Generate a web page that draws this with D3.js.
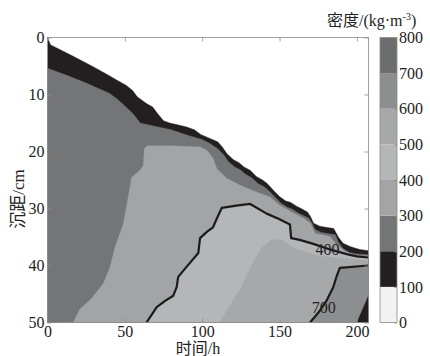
<!DOCTYPE html>
<html><head><meta charset="utf-8">
<script src="https://cdn.jsdelivr.net/npm/d3@7"></script>
<style>
body{margin:0;background:#fff;}
svg{display:block;}
</style></head><body>
<svg id="c" width="430" height="356"></svg>
<script>
// ---- tick labels / levels ----
const xTicks = [0, 50, 100, 150, 200];
const yTicks = [0, 10, 20, 30, 40, 50];
const levels = [0, 100, 200, 300, 400, 500, 600, 700, 800];
const levelColors = ["#f2f2f2", "#231f20", "#747577", "#a3a4a6", "#b5b6b8", "#a7a8aa", "#8d8e90", "#6c6d6f"];

// ---- region boundaries: [time h, depth cm] ----
const surface = [[0,0],[2,1.3],[8,2.1],[16,3.2],[28,4.9],[38,6.4],[45,7.5],[51,8.4],[55,9.3],[58,10.4],[64,11.6],[68,12.2],[71,13.3],[75,14.6],[79,15.0],[84,15.3],[90,15.7],[95,16.2],[99,17.0],[105,17.7],[110,18.3],[113,19.2],[116,20.4],[120,21.4],[124,22.0],[127,22.7],[131,23.3],[135,24.4],[139,25.0],[142,25.6],[146,26.8],[150,27.9],[154,28.7],[157,28.9],[161,29.6],[164,30.0],[168,30.6],[170,31.4],[172,32.6],[176,33.1],[180,33.3],[185,33.5],[188,35.0],[191,36.1],[196,36.7],[202,37.2],[207.5,37.4]];
const blackBottom = [[0,5.4],[12,6.6],[25,8],[40,9.8],[45,10.8],[50,12.0],[55,13.3],[60,15.0],[70,15.6],[80,16.2],[90,17.1],[100,17.9],[105,18.6],[110,19.5],[114,20.6],[117,21.8],[121,22.7],[125,23.3],[128,24.0],[132,24.6],[136,25.6],[140,26.2],[143,26.9],[147,28.0],[151,29.1],[155,29.8],[158,30.1],[162,30.8],[165,31.2],[169,31.7],[171,32.6],[173,33.7],[177,34.2],[181,34.4],[186,34.6],[188,35.9],[191,37.0],[195,37.7],[200,38.0],[207.5,38.1]];
const band300 = [[16.7,50],[21,47.6],[27.5,46.1],[36,43.2],[40.4,40.3],[43.6,36.8],[49,32.7],[52.2,28],[54.4,24.5],[59.8,23.3],[62,22.4],[62.6,19.5],[64.5,19.0],[80,19.0],[98.6,19.2],[103,19.8],[107,21.2],[109.4,23],[115.8,24.7],[124.4,25.9],[135,27.1],[143.8,28],[150,29.4],[159,30.8],[166,31.8],[170,32.6],[173,34.4],[182.6,34.9],[187,36.4],[193,37.6],[200,38.25],[207.5,38.35]];
const contour400 = [[64,50],[70.6,47.3],[76,46.2],[81.3,45.3],[83.5,43.8],[84.5,42],[90,40.2],[97.5,37.8],[98.6,35.2],[103,34.1],[107,33.3],[109.4,31.8],[112.6,29.9],[122,29.5],[131,29.2],[141.7,30.9],[150,31.9],[156.7,32.8],[157.5,35.2],[163,35.5],[171.8,36.2],[182.6,37.2],[193.4,38.0],[200,38.4],[207.5,38.6]];
const band500 = [[111,50],[118,47],[125,44],[132,40],[138,37],[145,35.4],[152,35.6],[160,37.0],[175,38.3],[190,38.8],[207.5,39.1]];
const contour700 = [[169.7,50],[175,48.3],[180.5,46.1],[184.7,43.8],[187,41.8],[189,40.4],[207.5,40.0]];
const corner = [[200,50],[207.5,45.3]];

const regions = [
  {pts: surface, level: 100},
  {pts: blackBottom, level: 200},
  {pts: band300, level: 300},
  {pts: contour400, level: 400},
  {pts: band500, level: 500},
  {pts: contour700, level: 600},
  {pts: corner, level: 100}
];
const contourLines = [contour400, contour700];
const contourLabels = [{t: 181, d: 38.2, text: "400"}, {t: 178.5, d: 48.4, text: "700"}];

// ---- layout ----
const L = 47.5, R = 368.5, T = 37.5, B = 322.5;
const tMax = 207.5, dMax = 50;
const serif = "'Liberation Serif','Times New Roman',serif";
const cjk = "'Liberation Serif','Noto Sans CJK SC',serif";

const svg = d3.select("#c");
const x = d3.scaleLinear().domain([0, tMax]).range([L, R]);
const y = d3.scaleLinear().domain([0, dMax]).range([T, B]);
const color = d3.scaleThreshold().domain(levels.slice(1, -1)).range(levelColors);

svg.append("defs").append("clipPath").attr("id", "clip")
  .append("rect").attr("x", L).attr("y", T).attr("width", R - L).attr("height", B - T);

const line = d3.line().x(d => x(d[0])).y(d => y(d[1]));
const g = svg.append("g").attr("clip-path", "url(#clip)");

g.selectAll("path.region").data(regions).join("path")
  .attr("class", "region")
  .attr("d", r => line(r.pts.concat([[tMax, dMax], [r.pts[0][0], dMax]])) + "Z")
  .attr("fill", r => color(r.level + 1))
  .attr("stroke", r => color(r.level + 1))
  .attr("stroke-width", 0.4);

g.selectAll("path.cline").data(contourLines).join("path")
  .attr("class", "cline")
  .attr("d", line)
  .attr("fill", "none")
  .attr("stroke", "#1b1b1b")
  .attr("stroke-width", 2.2)
  .attr("stroke-linejoin", "round");

g.selectAll("text.clab").data(contourLabels).join("text")
  .attr("class", "clab")
  .attr("x", d => x(d.t)).attr("y", d => y(d.d))
  .attr("text-anchor", "middle")
  .attr("font-family", serif).attr("font-size", 16).attr("fill", "#222")
  .text(d => d.text);

// frame
svg.append("rect").attr("x", L).attr("y", T).attr("width", R - L).attr("height", B - T)
  .attr("fill", "none").attr("stroke", "#8a8a8a").attr("stroke-width", 0.8);

// axes
function styleAxis(sel) {
  sel.select(".domain").remove();
  sel.selectAll("line").attr("stroke", "#8a8a8a").attr("stroke-width", 0.8);
  sel.selectAll("text").attr("font-family", serif).attr("font-size", 16).attr("fill", "#222");
}
svg.append("g").attr("transform", `translate(${L},0)`)
  .call(d3.axisLeft(y).tickValues(yTicks).tickSize(-4).tickPadding(3)).call(styleAxis);
svg.append("g").attr("transform", `translate(0,${B})`)
  .call(d3.axisBottom(x).tickValues(xTicks).tickSize(-4).tickPadding(3)).call(styleAxis);
svg.append("g").attr("transform", `translate(0,${T})`)
  .call(d3.axisTop(x).tickValues(xTicks).tickSize(-4).tickFormat("")).call(styleAxis);
svg.append("g").attr("transform", `translate(${R},0)`)
  .call(d3.axisRight(y).tickValues(yTicks).tickSize(-4).tickFormat("")).call(styleAxis);

// axis titles
svg.append("text").attr("x", 198).attr("y", 354).attr("text-anchor", "middle")
  .attr("font-family", cjk).attr("font-size", 16).attr("fill", "#222").text("时间/h");
svg.append("text").attr("transform", "translate(24,199) rotate(-90)").attr("text-anchor", "middle")
  .attr("font-family", cjk).attr("font-size", 17).attr("fill", "#222").text("沉距/cm");

// colorbar
const cbL = 380, cbR = 397;
const cy = d3.scaleLinear().domain([0, 800]).range([B, T]);
const bands = d3.pairs(levels);
svg.selectAll("rect.cb").data(bands).join("rect").attr("class", "cb")
  .attr("x", cbL).attr("width", cbR - cbL)
  .attr("y", d => cy(d[1])).attr("height", d => cy(d[0]) - cy(d[1]))
  .attr("fill", d => color(d[0] + 1));
svg.append("rect").attr("x", cbL).attr("y", T).attr("width", cbR - cbL).attr("height", B - T)
  .attr("fill", "none").attr("stroke", "#8a8a8a").attr("stroke-width", 0.8);
svg.append("g").attr("transform", `translate(${cbR},0)`)
  .call(d3.axisRight(cy).tickValues(levels).tickSize(-3).tickPadding(2)).call(styleAxis);

// colorbar title
const tt = svg.append("text").attr("x", 327).attr("y", 26)
  .attr("font-family", cjk).attr("font-size", 16).attr("fill", "#222");
tt.append("tspan").text("密度/(kg·m");
tt.append("tspan").attr("font-size", 10).attr("dy", -6).text("-3");
tt.append("tspan").attr("dy", 6).text(")");
</script>
</body></html>
